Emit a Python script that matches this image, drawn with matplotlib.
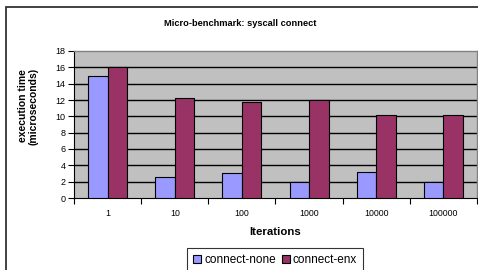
import numpy as np
import matplotlib.pyplot as plt
from matplotlib.patches import Rectangle

plt.rcParams['font.family'] = ['Liberation Sans', 'DejaVu Sans']

# data
iterations = ['1', '10', '100', '1000', '10000', '100000']
connect_none = [15.0, 2.6, 3.05, 2.0, 3.15, 1.95]
connect_enx = [16.0, 12.2, 11.7, 12.05, 10.2, 10.2]
series_names = ['connect-none', 'connect-enx']
colors = ['#9999FF', '#993366']

W, H = 478, 270
fig = plt.figure(figsize=(W / 100, H / 100), dpi=100)
# axes: left 74px, right 477px, top 51px, bottom 198px
ax = fig.add_axes([74 / W, 1 - 198 / H, (477 - 74) / W, (198 - 51) / H])
ax.set_facecolor('#C0C0C0')

x = np.arange(len(iterations))
w = 0.29
for i, (vals, name, c) in enumerate(zip([connect_none, connect_enx], series_names, colors)):
    ax.bar(x + (i - 0.5) * w, vals, w, color=c, edgecolor='black', linewidth=0.8,
           label=name, zorder=3)

ax.set_xlim(-0.5, len(iterations) - 0.5)
ax.set_ylim(0, 18)
ax.set_yticks(range(0, 19, 2))
for y in range(2, 18, 2):
    ax.axhline(y, color='black', linewidth=1.0, zorder=1)

ax.set_xticks(x)
ax.set_xticklabels(iterations, fontsize=6.3)
ax.set_xticks(np.arange(-0.5, len(iterations)), minor=True)
ax.tick_params(axis='x', which='major', length=0, pad=8)
ax.tick_params(axis='x', which='minor', length=4, width=0.8, direction='out')
ax.tick_params(axis='y', length=4, width=0.8, direction='out', labelsize=6.5, pad=2)

for side in ['top', 'right']:
    ax.spines[side].set_color('#808080')
    ax.spines[side].set_linewidth(1.0)
ax.spines['left'].set_linewidth(0.8)
ax.spines['bottom'].set_linewidth(0.8)

fig.text(240 / W, 1 - 23 / H, 'Micro-benchmark: syscall connect', ha='center',
         va='center', fontsize=6.7, fontweight='bold')
fig.text(28 / W, 1 - 106 / H, 'execution time\n(microseconds)', ha='center',
         va='center', rotation=90, fontsize=7.5, fontweight='bold', linespacing=1.1)
fig.text(275 / W, 1 - 232 / H, 'Iterations', ha='center', va='center',
         fontsize=8.2, fontweight='bold')

leg = fig.legend(loc='upper center', bbox_to_anchor=(275 / W, 1 - 248 / H),
                 ncol=2, fontsize=8.5, frameon=True, fancybox=False,
                 handlelength=0.7, handleheight=0.7, handletextpad=0.25,
                 columnspacing=0.5, borderpad=0.5, borderaxespad=0)
leg.get_frame().set_edgecolor('black')
leg.get_frame().set_linewidth(0.8)

# outer chart border, cropped on the right and bottom
fig.patches.append(Rectangle((6 / W, -0.1), 1.2, 1 - 7 / H + 0.1,
                             transform=fig.transFigure, fill=False,
                             edgecolor='#333333', linewidth=1.3))

fig.savefig('out.png', dpi=100)
